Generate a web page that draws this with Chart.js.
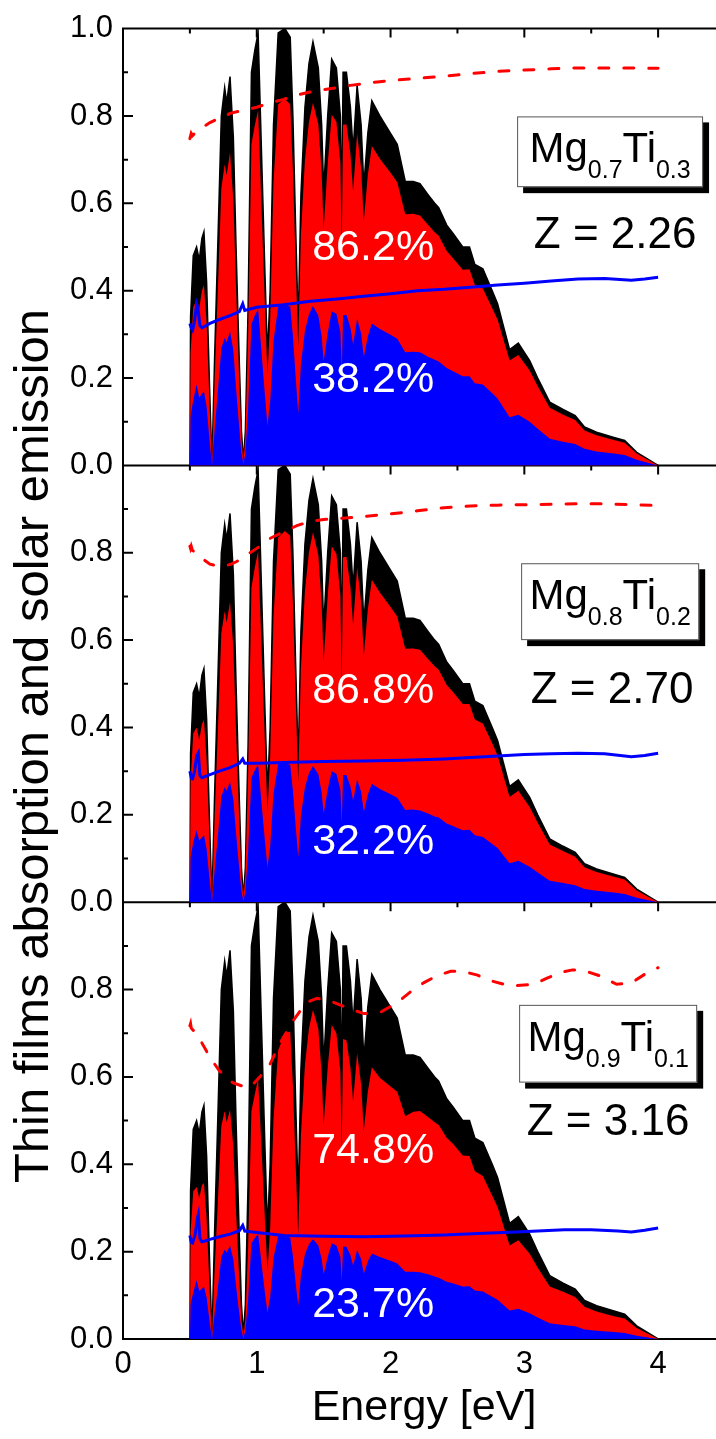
<!DOCTYPE html>
<html>
<head>
<meta charset="utf-8">
<script src="https://cdn.jsdelivr.net/npm/chart.js@4.4.1/dist/chart.umd.min.js"></script>
<style>
  html, body { margin: 0; padding: 0; background: #fff; overflow: hidden; }
  #wrap { width: 716px; height: 1439px; overflow: hidden; position: relative; }
  canvas { display: block; }
</style>
</head>
<body>
<div id="wrap"><canvas id="chart" width="730" height="1439"></canvas></div>
<script>
// Solar emission (normalised) and the part absorbed in each film, on one energy grid [eV]
const energy = [0.50,0.505,0.525,0.55,0.57,0.59,0.605,0.625,0.645,0.665,0.685,0.71,0.735,0.76,0.775,0.80,0.825,0.845,0.865,0.885,0.90,0.915,0.935,0.96,0.985,1.01,1.035,1.06,1.08,1.10,1.125,1.16,1.21,1.25,1.27,1.29,1.31,1.33,1.36,1.39,1.42,1.46,1.485,1.50,1.53,1.56,1.595,1.625,1.635,1.645,1.67,1.70,1.72,1.75,1.78,1.80,1.83,1.86,1.92,2.00,2.05,2.11,2.17,2.22,2.28,2.33,2.36,2.42,2.47,2.54,2.59,2.63,2.69,2.76,2.80,2.89,2.955,3.04,3.10,3.19,3.29,3.38,3.45,3.54,3.67,3.75,3.84,4.00];
const solar = [0,0.34,0.48,0.50,0.47,0.52,0.535,0.42,0.20,0,0.25,0.52,0.80,0.865,0.83,0.89,0.75,0.50,0.28,0.08,0.01,0.08,0.36,0.90,0.95,0.99,0.72,0.45,0.25,0.40,0.78,0.99,1.00,0.98,0.80,0.55,0.32,0.62,0.82,0.92,0.97,0.91,0.78,0.63,0.80,0.93,0.91,0.80,0.56,0.90,0.90,0.82,0.72,0.87,0.78,0.64,0.76,0.835,0.80,0.76,0.735,0.65,0.65,0.645,0.62,0.60,0.59,0.55,0.53,0.50,0.50,0.46,0.45,0.40,0.37,0.265,0.28,0.24,0.20,0.145,0.128,0.114,0.088,0.076,0.064,0.057,0.03,0];

const redTop = [0,.255,.362,.38,.36,.40,.413,.326,.156,0,.197,.411,.634,.689,.664,.717,.606,.405,.227,.065,.008,.065,.293,.735,.778,.813,.593,.372,.207,.332,.649,.827,.839,.826,.676,.466,.272,.528,.70,.786,.83,.781,.67,.542,.69,.803,.787,.693,.486,.78,.781,.713,.627,.759,.681,.559,.665,.731,.702,.67,.648,.575,.576,.572,.551,.534,.526,.491,.473,.448,.449,.413,.405,.36,.334,.24,.253,.217,.181,.132,.116,.104,.08,.069,.058,.052,.027,0];
const blueTop = [0,.112,.149,.185,.155,.164,.17,.134,.064,0,.082,.173,.268,.292,.282,.307,.263,.177,.10,.029,.004,.028,.129,.324,.343,.358,.261,.164,.091,.146,.285,.363,.368,.363,.297,.205,.119,.232,.308,.346,.365,.343,.295,.238,.303,.353,.347,.306,.214,.344,.345,.315,.277,.336,.302,.248,.295,.325,.312,.299,.29,.259,.26,.259,.249,.242,.238,.223,.215,.204,.204,.188,.185,.165,.153,.11,.116,.10,.084,.061,.054,.049,.038,.032,.027,.024,.013,0];
const redMid = [0,.275,.386,.40,.371,.408,.417,.326,.155,0,.193,.401,.616,.666,.64,.688,.582,.39,.22,.063,.008,.063,.287,.72,.766,.804,.589,.371,.207,.333,.653,.835,.85,.839,.687,.474,.276,.537,.713,.801,.847,.795,.683,.551,.701,.815,.798,.702,.492,.79,.791,.721,.634,.766,.687,.564,.67,.738,.709,.676,.654,.58,.581,.578,.557,.54,.532,.497,.48,.454,.454,.418,.409,.364,.336,.241,.255,.218,.182,.132,.117,.104,.08,.069,.058,.052,.027,0];
const blueMid = [0,.102,.137,.165,.141,.148,.154,.122,.058,0,.074,.155,.242,.264,.255,.276,.235,.158,.09,.026,.003,.025,.114,.285,.302,.315,.229,.143,.08,.128,.249,.317,.32,.314,.256,.177,.103,.199,.263,.295,.312,.293,.251,.203,.258,.30,.294,.258,.181,.291,.291,.265,.233,.281,.253,.207,.246,.271,.259,.247,.239,.211,.212,.21,.203,.196,.194,.18,.174,.165,.166,.153,.149,.133,.124,.089,.095,.081,.068,.049,.044,.039,.03,.026,.022,.019,.01,0];
const redBot = [0,.243,.338,.348,.322,.352,.357,.276,.13,0,.158,.321,.488,.522,.496,.525,.44,.292,.163,.046,.006,.046,.208,.522,.56,.596,.439,.278,.156,.252,.503,.661,.70,.704,.582,.405,.238,.467,.628,.711,.754,.71,.608,.49,.621,.719,.70,.613,.428,.687,.684,.621,.544,.654,.583,.477,.566,.622,.598,.578,.566,.51,.52,.522,.508,.496,.49,.461,.446,.42,.419,.384,.373,.328,.302,.214,.226,.195,.163,.12,.108,.096,.074,.063,.052,.047,.025,0];
const blueBot = [0,.08,.106,.135,.11,.115,.12,.095,.046,0,.058,.121,.188,.205,.198,.214,.182,.122,.069,.02,.0025,.02,.088,.22,.231,.241,.174,.108,.06,.096,.186,.236,.237,.232,.19,.13,.076,.146,.194,.217,.229,.214,.183,.148,.188,.219,.214,.188,.132,.212,.211,.192,.168,.204,.183,.15,.178,.196,.188,.179,.173,.154,.154,.153,.148,.143,.14,.131,.127,.12,.121,.111,.109,.097,.09,.065,.069,.059,.049,.036,.032,.029,.022,.019,.016,.014,.0074,0];

// Absorption curves (dashed red) and second curve (solid blue) per film
const dashTopE = [0.50,0.51,0.52,0.55,0.60,0.65,0.70,0.75,0.80,0.90,1.00,1.10,1.20,1.30,1.40,1.50,1.60,1.70,1.80,1.90,2.00,2.20,2.40,2.60,2.80,3.00,3.20,3.40,3.60,3.80,4.00];
const dashTopA = [0.748,0.76,0.755,0.765,0.775,0.785,0.792,0.797,0.806,0.813,0.82,0.83,0.838,0.848,0.855,0.86,0.865,0.87,0.874,0.878,0.881,0.886,0.891,0.897,0.902,0.905,0.908,0.91,0.91,0.91,0.909];
const lineTopE = [0.50,0.51,0.52,0.535,0.55,0.56,0.575,0.59,0.65,0.72,0.80,0.87,0.895,0.91,1.00,1.20,1.40,1.60,1.80,2.00,2.20,2.40,2.60,2.80,3.00,3.20,3.40,3.60,3.80,3.90,4.00];
const lineTopA = [0.325,0.315,0.31,0.33,0.37,0.36,0.32,0.315,0.325,0.334,0.343,0.352,0.37,0.355,0.362,0.368,0.376,0.381,0.387,0.393,0.40,0.403,0.408,0.413,0.417,0.422,0.427,0.428,0.424,0.427,0.431];

const dashMidE = [0.50,0.505,0.51,0.52,0.55,0.60,0.65,0.70,0.75,0.80,0.85,0.90,1.00,1.10,1.20,1.30,1.40,1.50,1.60,1.80,2.00,2.20,2.40,2.60,2.80,3.00,3.20,3.40,3.60,3.80,4.00];
const dashMidA = [0.815,0.81,0.815,0.805,0.80,0.785,0.774,0.77,0.77,0.773,0.78,0.79,0.81,0.833,0.848,0.862,0.872,0.876,0.878,0.883,0.889,0.896,0.903,0.907,0.909,0.91,0.911,0.912,0.912,0.91,0.908];
const lineMidE = [0.50,0.51,0.52,0.535,0.55,0.563,0.575,0.59,0.65,0.72,0.80,0.87,0.895,0.91,1.00,1.20,1.50,1.80,2.10,2.40,2.70,3.00,3.20,3.40,3.60,3.80,3.90,4.00];
const lineMidA = [0.30,0.285,0.283,0.30,0.335,0.342,0.29,0.285,0.292,0.30,0.308,0.318,0.328,0.318,0.318,0.32,0.322,0.323,0.325,0.328,0.333,0.338,0.34,0.341,0.34,0.333,0.336,0.341];

const dashBotE = [0.50,0.505,0.51,0.53,0.58,0.65,0.72,0.82,0.90,0.95,1.02,1.10,1.17,1.27,1.37,1.45,1.55,1.67,1.80,1.92,2.05,2.15,2.25,2.35,2.45,2.55,2.65,2.75,2.90,3.07,3.17,3.27,3.36,3.44,3.57,3.69,3.80,3.92,4.00];
const dashBotA = [0.717,0.722,0.712,0.705,0.683,0.645,0.614,0.587,0.578,0.576,0.599,0.63,0.675,0.728,0.77,0.78,0.774,0.759,0.745,0.747,0.77,0.795,0.816,0.832,0.842,0.841,0.833,0.82,0.808,0.812,0.826,0.839,0.845,0.844,0.831,0.812,0.815,0.839,0.85];
const lineBotE = [0.50,0.51,0.52,0.54,0.555,0.563,0.575,0.59,0.65,0.72,0.80,0.87,0.895,0.91,1.00,1.20,1.50,1.80,2.10,2.40,2.70,2.94,3.10,3.30,3.50,3.70,3.80,3.90,4.00];
const lineBotA = [0.237,0.222,0.22,0.24,0.275,0.285,0.23,0.222,0.228,0.234,0.24,0.248,0.26,0.247,0.244,0.237,0.235,0.234,0.236,0.238,0.242,0.245,0.247,0.25,0.25,0.247,0.245,0.249,0.254];

// Labels
const redShare = ['86.2%', '86.8%', '74.8%'];
const blueShare = ['38.2%', '32.2%', '23.7%'];
const mgSub = ['0.7', '0.8', '0.9'];
const tiSub = ['0.3', '0.2', '0.1'];
const zLabels = ['Z = 2.26', 'Z = 2.70', 'Z = 3.16'];

// Ticks
const xTickValues = [0, 1, 2, 3, 4];
const xTickLabels = ['0', '1', '2', '3', '4'];
const xMinorTicks = [0.5, 1.5, 2.5, 3.5, 4.5];
const yTickValues = [0, 0.2, 0.4, 0.6, 0.8, 1.0];
const yTickLabels = ['0.0', '0.2', '0.4', '0.6', '0.8', '1.0'];
const yMinorTicks = [0.1, 0.3, 0.5, 0.7, 0.9];

const FONT = '"Liberation Sans", Arial, Helvetica, sans-serif';
Chart.defaults.font.family = FONT;
Chart.defaults.color = '#000';

const panelAxes = ['yTop', 'yMid', 'yBot'];

// where the notes go, in data units of each panel
const pctX = 1.87;
const redY = [0.47, 0.457, 0.404];
const blueY = [0.167, 0.11, 0.05];
const boxLeft = [2.946, 2.976, 2.961];
const boxRight = [4.336, 4.307, 4.292];
const boxTop = [0.799, 0.776, 0.765];
const boxBottom = [0.637, 0.60, 0.587];
const zX = [3.679, 3.656, 3.626];
const zY = [0.498, 0.457, 0.466];

function pts(xs, ys) {
    return xs.map((x, i) => ({ x: x, y: ys[i] }));
}

const fills = [[redTop, blueTop], [redMid, blueMid], [redBot, blueBot]];
const dashes = [[dashTopE, dashTopA], [dashMidE, dashMidA], [dashBotE, dashBotA]];
const solids = [[lineTopE, lineTopA], [lineMidE, lineMidA], [lineBotE, lineBotA]];

const datasets = [];
panelAxes.forEach((axis, k) => {
    datasets.push({ data: pts(energy, solar), yAxisID: axis, fill: 'origin',
        backgroundColor: '#000', borderColor: '#000', borderWidth: 1.5, order: 4 });
    datasets.push({ data: pts(energy, fills[k][0]), yAxisID: axis, fill: 'origin',
        backgroundColor: '#ff0000', borderColor: 'rgba(0,0,0,0)', borderWidth: 1, order: 3 });
    datasets.push({ data: pts(energy, fills[k][1]), yAxisID: axis, fill: 'origin',
        backgroundColor: '#0000ff', borderColor: 'rgba(0,0,0,0)', borderWidth: 1, order: 2 });
    datasets.push({ data: pts(dashes[k][0], dashes[k][1]), yAxisID: axis, fill: false,
        borderColor: '#ff0000', borderWidth: 3, borderDash: [10, 15], borderCapStyle: 'round', order: 1 });
    datasets.push({ data: pts(solids[k][0], solids[k][1]), yAxisID: axis, fill: false,
        borderColor: '#0000ff', borderWidth: 3, order: 1 });
});

function panelAxis(showTop) {
    return {
        type: 'linear', position: 'left', stack: 'panels', stackWeight: 1, offset: false,
        min: 0, max: 1,
        afterBuildTicks: s => {
            s.ticks = yTickValues.filter(v => showTop || v < 1).map(v => ({ value: v }));
        },
        afterFit: s => { s.width = 123; },
        grid: { display: false, drawTicks: false },
        border: { display: false },
        ticks: { padding: 10, font: { size: 31 }, color: '#000',
            callback: v => yTickLabels[yTickValues.indexOf(v)] }
    };
}

// frame and inward ticks, under the data like the original
const framePlugin = {
    id: 'frame',
    beforeDatasetsDraw(chart) {
        const ctx = chart.ctx;
        const { left, right, bottom } = chart.chartArea;
        const xs = chart.scales.x;
        ctx.save();
        ctx.strokeStyle = '#000';
        ctx.lineWidth = 2;
        ctx.beginPath();
        ctx.moveTo(left, chart.chartArea.top - 1);
        ctx.lineTo(left, bottom + 1);
        ctx.moveTo(left, bottom);
        ctx.lineTo(right, bottom);
        panelAxes.forEach(id => {
            const ys = chart.scales[id];
            ctx.moveTo(left, ys.top);
            ctx.lineTo(right, ys.top);
            yTickValues.forEach(v => {
                const p = ys.getPixelForValue(v);
                ctx.moveTo(left, p);
                ctx.lineTo(left + 10, p);
            });
            yMinorTicks.forEach(v => {
                const p = ys.getPixelForValue(v);
                ctx.moveTo(left, p);
                ctx.lineTo(left + 5, p);
            });
            xTickValues.forEach(v => {
                const p = xs.getPixelForValue(v);
                ctx.moveTo(p, ys.top);
                ctx.lineTo(p, ys.top + 9);
            });
            xMinorTicks.forEach(v => {
                const p = xs.getPixelForValue(v);
                ctx.moveTo(p, ys.top);
                ctx.lineTo(p, ys.top + 5);
            });
        });
        ctx.stroke();
        ctx.restore();
    }
};

// shares, composition boxes and Z values
const notesPlugin = {
    id: 'notes',
    afterDatasetsDraw(chart) {
        const ctx = chart.ctx;
        const xs = chart.scales.x;
        ctx.save();
        panelAxes.forEach((id, k) => {
            const ys = chart.scales[id];
            ctx.textBaseline = 'alphabetic';
            ctx.textAlign = 'center';
            ctx.fillStyle = '#fff';
            ctx.font = '43px ' + FONT;
            ctx.fillText(redShare[k], xs.getPixelForValue(pctX), ys.getPixelForValue(redY[k]));
            ctx.fillText(blueShare[k], xs.getPixelForValue(pctX), ys.getPixelForValue(blueY[k]));

            const bl = xs.getPixelForValue(boxLeft[k]);
            const br = xs.getPixelForValue(boxRight[k]);
            const bt = ys.getPixelForValue(boxTop[k]);
            const bb = ys.getPixelForValue(boxBottom[k]);
            ctx.fillStyle = '#000';
            ctx.fillRect(bl + 6, bt + 6, br - bl, bb - bt);
            ctx.fillStyle = '#fff';
            ctx.fillRect(bl, bt, br - bl, bb - bt);
            ctx.strokeStyle = '#555';
            ctx.lineWidth = 1;
            ctx.strokeRect(bl + 0.5, bt + 0.5, br - bl - 1, bb - bt - 1);

            const parts = [['Mg', 42, 0], [mgSub[k], 25, 16], ['Ti', 42, 0], [tiSub[k], 25, 16]];
            let total = 0;
            parts.forEach(p => { ctx.font = p[1] + 'px ' + FONT; total += ctx.measureText(p[0]).width; });
            let cx = (bl + br) / 2 - total / 2;
            ctx.textAlign = 'left';
            ctx.fillStyle = '#000';
            parts.forEach(p => {
                ctx.font = p[1] + 'px ' + FONT;
                ctx.fillText(p[0], cx, bt + 46 + p[2]);
                cx += ctx.measureText(p[0]).width;
            });

            ctx.textAlign = 'center';
            ctx.font = '44px ' + FONT;
            ctx.fillText(zLabels[k], xs.getPixelForValue(zX[k]), ys.getPixelForValue(zY[k]));
        });
        ctx.restore();
    },
    afterDraw(chart) {
        const ctx = chart.ctx;
        ctx.save();
        ctx.translate(48, 746);
        ctx.rotate(-Math.PI / 2);
        ctx.textAlign = 'center';
        ctx.textBaseline = 'alphabetic';
        ctx.fillStyle = '#000';
        ctx.font = '49px ' + FONT;
        ctx.fillText('Thin films absorption and solar emission', 0, 0);
        ctx.restore();
    }
};

new Chart(document.getElementById('chart'), {
    type: 'line',
    data: { datasets: datasets },
    options: {
        responsive: false,
        animation: false,
        events: [],
        layout: { padding: { top: 25, right: 5, left: 0, bottom: 0 } },
        elements: { point: { radius: 0 }, line: { tension: 0 } },
        plugins: { legend: { display: false }, tooltip: { enabled: false } },
        scales: {
            x: {
                type: 'linear', min: 0, max: 4.5,
                afterBuildTicks: s => { s.ticks = xTickValues.map(v => ({ value: v })); },
                afterFit: s => { s.height = 100; },
                grid: { display: false, drawTicks: false },
                border: { display: false },
                ticks: { padding: 7, font: { size: 31 }, color: '#000', maxRotation: 0, autoSkip: false,
                    callback: v => xTickLabels[xTickValues.indexOf(v)] },
                title: { display: true, text: 'Energy [eV]', font: { size: 43 }, color: '#000',
                    padding: { top: 0, bottom: 5 } }
            },
            yBot: panelAxis(false),
            yMid: panelAxis(false),
            yTop: panelAxis(true)
        }
    },
    plugins: [framePlugin, notesPlugin]
});
</script>
</body>
</html>
